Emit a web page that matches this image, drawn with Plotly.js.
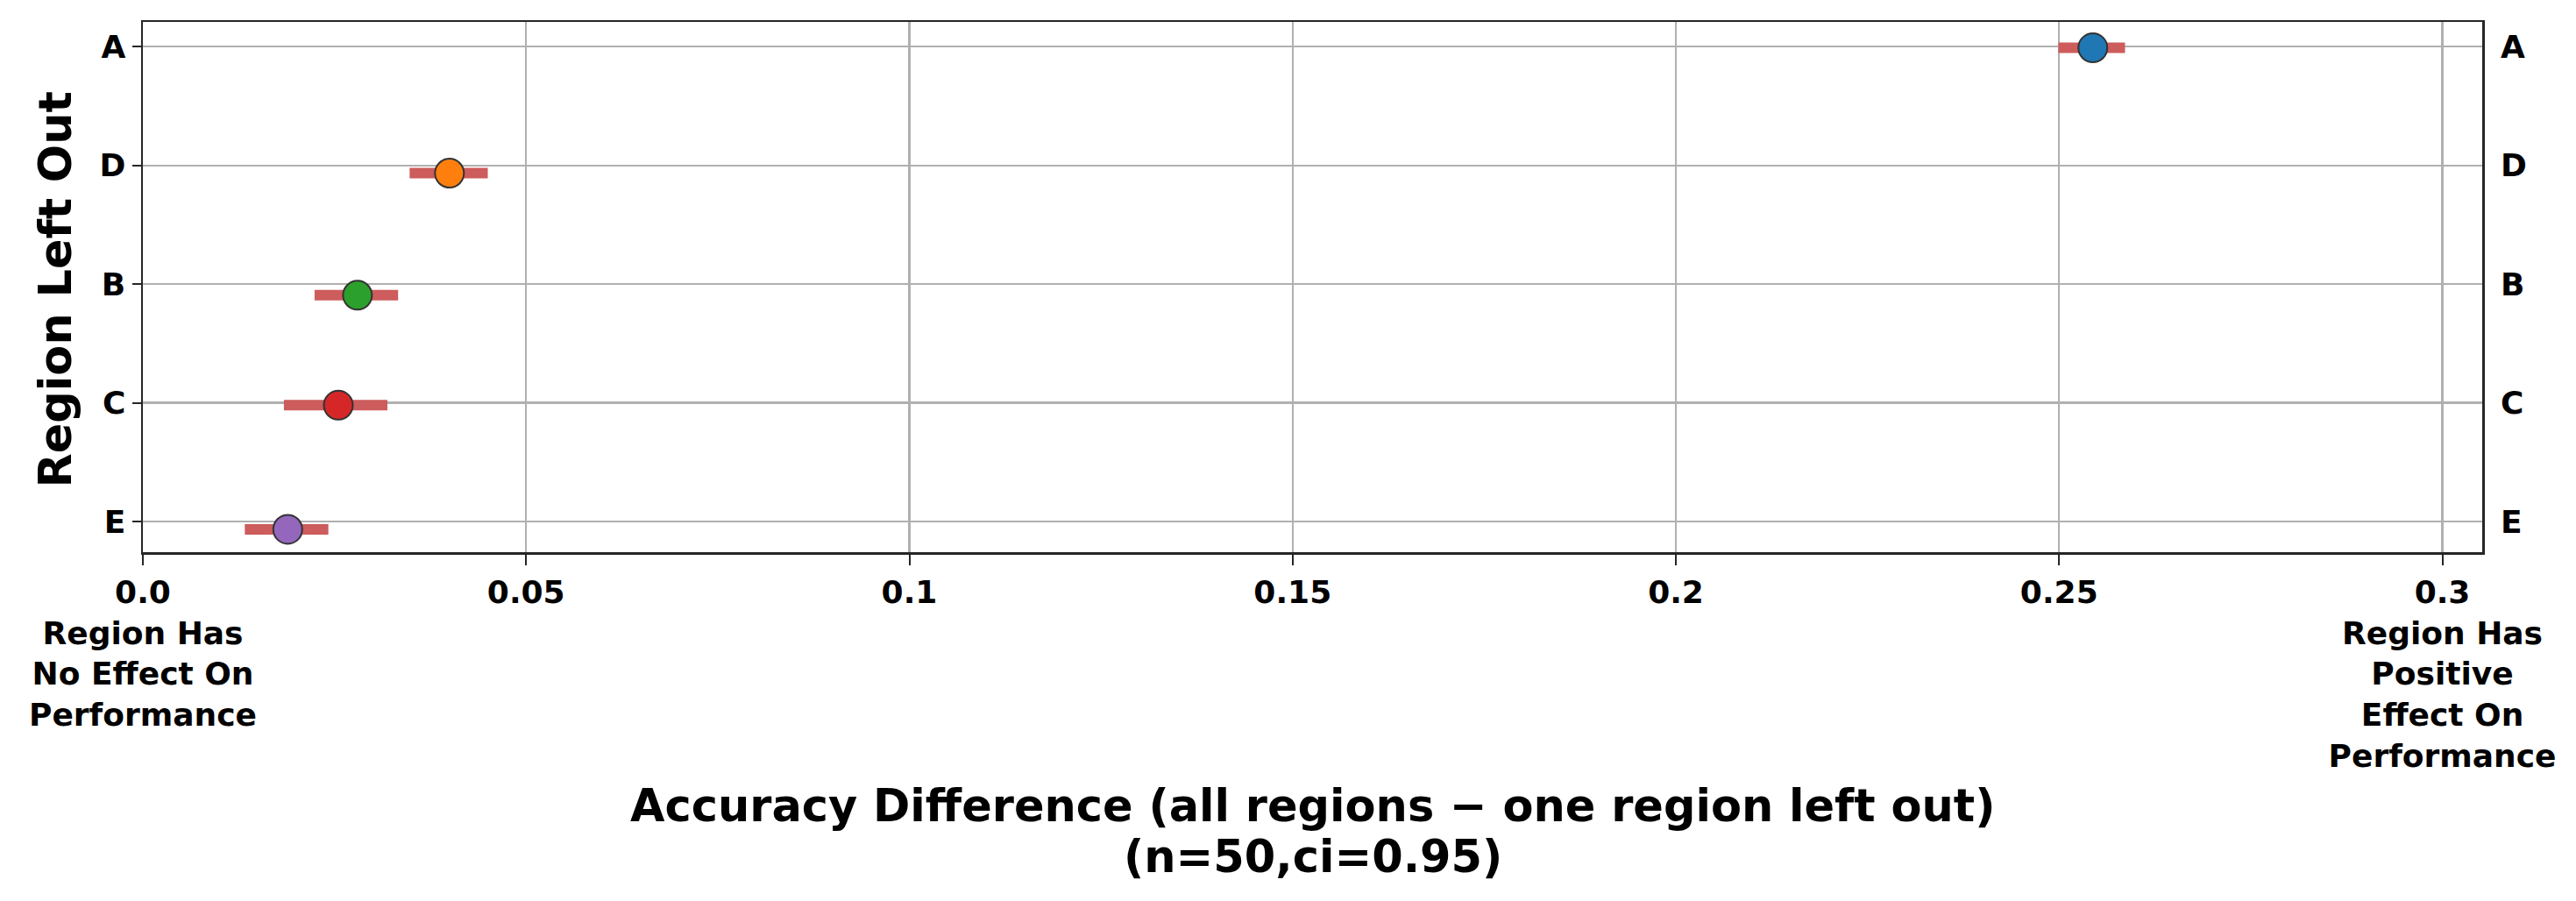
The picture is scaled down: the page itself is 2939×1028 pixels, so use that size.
<!DOCTYPE html>
<html>
<head>
<meta charset="utf-8">
<script src="https://cdn.plot.ly/plotly-3.0.1.min.js"></script>
<style>
  html, body { margin: 0; padding: 0; background: #fff; }
  #root { width: 2939px; height: 1028px; }
</style>
</head>
<body>
<div id="root"></div>
<script>
// regions, top to bottom
const regions = ['A', 'D', 'B', 'C', 'E'];
const rowPos = [4, 3, 2, 1, 0];
// points sit a little under their grid line in the original
const yJitter = [-0.01, -0.066, -0.094, -0.02, -0.066];
const meanDiff = [0.2544, 0.0400, 0.0280, 0.0255, 0.0189];
const ciLow = [0.2499, 0.0348, 0.0224, 0.0184, 0.0133];
const ciHigh = [0.2586, 0.0450, 0.0333, 0.0319, 0.0242];
const pointColors = ['#1f77b4', '#ff7f0e', '#2ca02c', '#d62728', '#9467bd'];

const xTickVals = [0, 0.05, 0.1, 0.15, 0.2, 0.25, 0.3];
const xTickText = [
    '0.0<br>Region Has<br>No Effect On<br>Performance',
    '0.05', '0.1', '0.15', '0.2', '0.25',
    '0.3<br>Region Has<br>Positive<br>Effect On<br>Performance'
];
const xTitleLines = [
    'Accuracy Difference (all regions \u2212 one region left out)',
    '(n=50,ci=0.95)'
];

const FONT = 'DejaVu Sans, Liberation Sans, sans-serif';
const DARK = '#262626';
const yRange = [-0.258, 4.208];

var yPts = [];
var errPlus = [];
var errMinus = [];
for (let i = 0; i < regions.length; i++) {
    yPts.push(rowPos[i] + yJitter[i]);
    errPlus.push(ciHigh[i] - meanDiff[i]);
    errMinus.push(meanDiff[i] - ciLow[i]);
}

var points = {
    x: meanDiff,
    y: yPts,
    type: 'scatter',
    mode: 'markers',
    hoverinfo: 'skip',
    marker: {
        size: 33,
        color: pointColors,
        line: { color: '#333333', width: 2 }
    },
    error_x: {
        type: 'data',
        symmetric: false,
        array: errPlus,
        arrayminus: errMinus,
        color: '#cd5c5c',
        thickness: 12,
        width: 0
    },
    showlegend: false
};

// invisible copy so the mirrored right-hand axis gets drawn
var mirror = {
    x: meanDiff,
    y: yPts,
    yaxis: 'y2',
    type: 'scatter',
    mode: 'markers',
    marker: { opacity: 0 },
    hoverinfo: 'skip',
    showlegend: false
};

var tickFont = { family: FONT, size: 36, color: '#000', weight: 'bold' };
var titleFont = { family: FONT, size: 51, color: '#000', weight: 'bold' };

var layout = {
    width: 2939,
    height: 1028,
    margin: { l: 163, r: 107, t: 25, b: 398 },
    paper_bgcolor: '#fff',
    plot_bgcolor: '#fff',
    xaxis: {
        range: [0, 0.3052],
        tickmode: 'array',
        tickvals: xTickVals,
        ticktext: xTickText,
        tickangle: 0,
        tickfont: tickFont,
        ticks: 'outside',
        ticklen: 12,
        tickwidth: 2,
        tickcolor: DARK,
        showgrid: true,
        gridcolor: '#b0b0b0',
        gridwidth: 2.2,
        zeroline: false,
        showline: true,
        mirror: true,
        linecolor: DARK,
        linewidth: 2.5,
        automargin: false
    },
    yaxis: {
        range: yRange,
        tickmode: 'array',
        tickvals: rowPos,
        ticktext: regions,
        tickfont: tickFont,
        ticks: 'outside',
        ticklen: 10,
        tickwidth: 2,
        tickcolor: DARK,
        showgrid: true,
        gridcolor: '#b0b0b0',
        gridwidth: 2.2,
        zeroline: false,
        showline: true,
        mirror: true,
        linecolor: DARK,
        linewidth: 2.5,
        automargin: false
    },
    yaxis2: {
        overlaying: 'y',
        side: 'right',
        range: yRange,
        tickmode: 'array',
        tickvals: rowPos,
        ticktext: regions,
        tickfont: tickFont,
        ticks: '',
        ticklabelstandoff: 20,
        showgrid: false,
        zeroline: false,
        showline: false,
        automargin: false
    },
    annotations: [
        {
            text: 'Region Left Out',
            xref: 'paper', yref: 'paper',
            x: 0, y: 0.5,
            xshift: -100, yshift: -3,
            xanchor: 'center', yanchor: 'middle',
            textangle: -90,
            showarrow: false,
            font: titleFont
        },
        {
            text: xTitleLines[0],
            xref: 'paper', yref: 'paper',
            x: 0.5, y: 0,
            yshift: -289,
            xanchor: 'center', yanchor: 'middle',
            showarrow: false,
            font: titleFont
        },
        {
            text: xTitleLines[1],
            xref: 'paper', yref: 'paper',
            x: 0.5, y: 0,
            yshift: -347,
            xanchor: 'center', yanchor: 'middle',
            showarrow: false,
            font: titleFont
        }
    ]
};

Plotly.newPlot('root', [points, mirror], layout, { staticPlot: true });
</script>
</body>
</html>
